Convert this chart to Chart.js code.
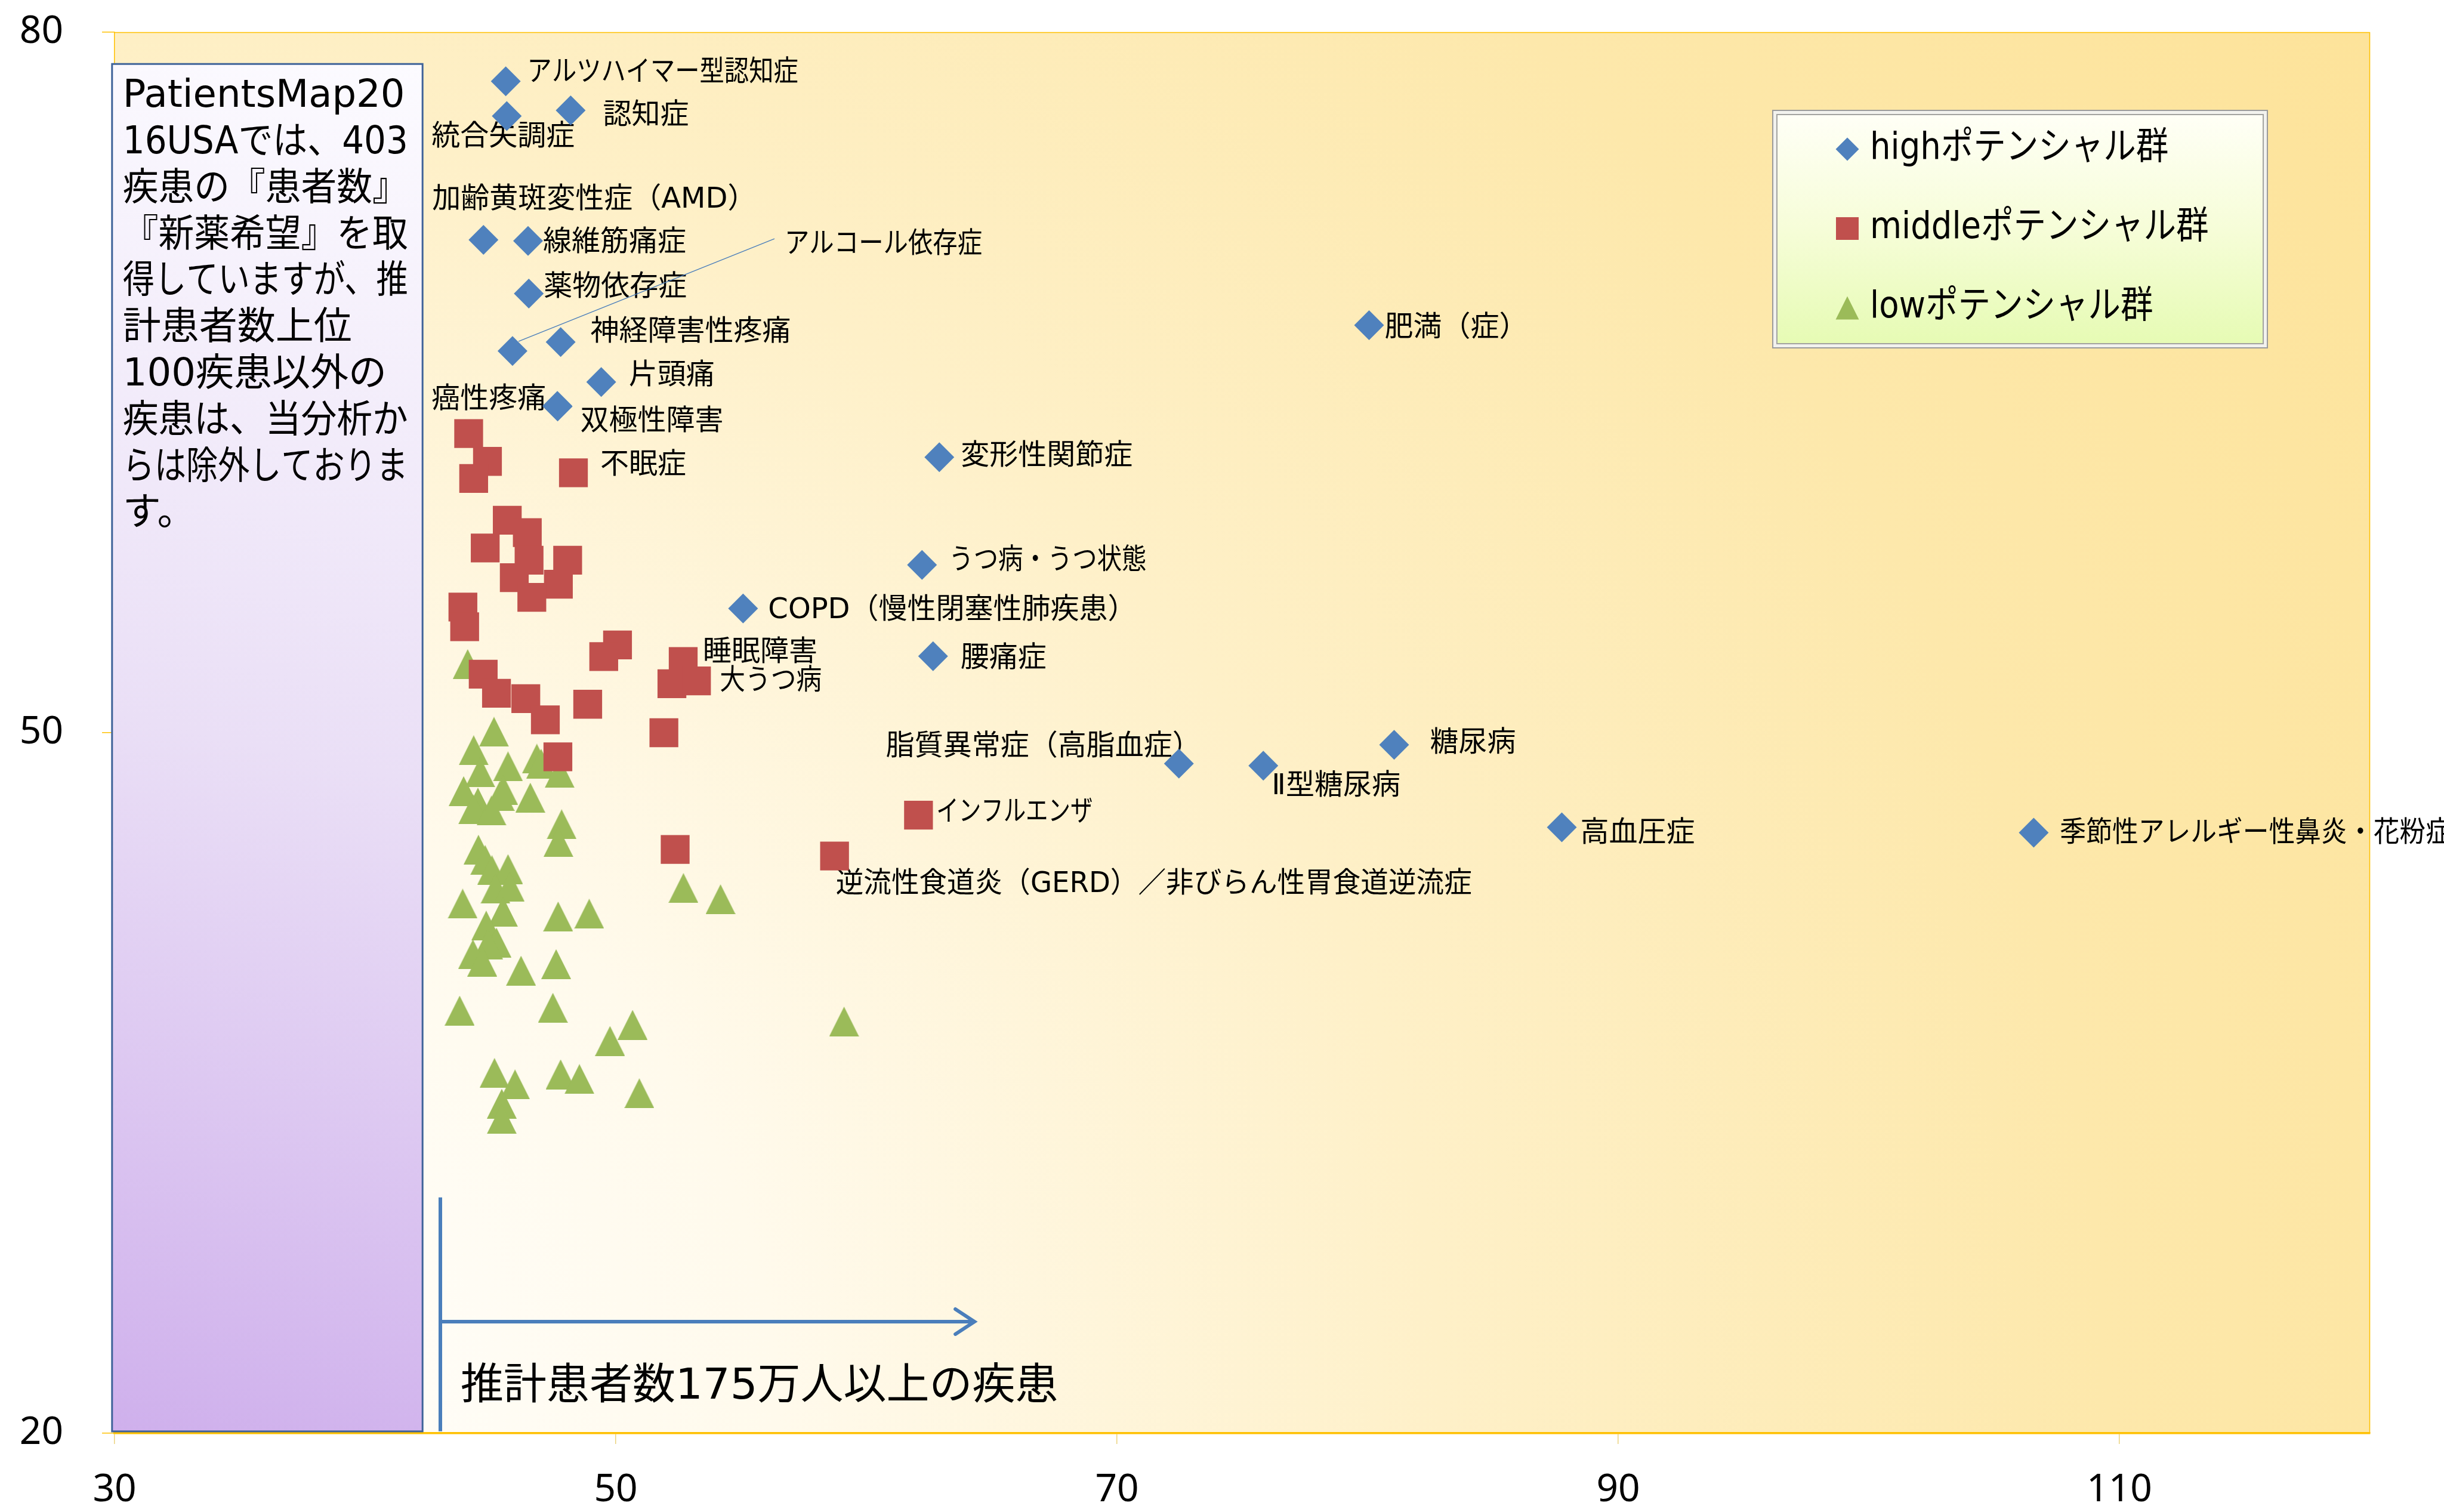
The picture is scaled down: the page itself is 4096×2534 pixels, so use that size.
<!DOCTYPE html>
<html>
<head>
<meta charset="utf-8">
<script src="https://cdn.jsdelivr.net/npm/chart.js@4.4.1/dist/chart.umd.min.js"></script>
<style>
  html, body { margin: 0; padding: 0; background: #ffffff; overflow: hidden; }
  #plot { display: block; width: 4096px; height: 2534px; }
</style>
</head>
<body>
<canvas id="plot" width="4096" height="2534"></canvas>
<script>
// ---- axis ticks ----
const xTickValues = [30, 50, 70, 90, 110];
const yTickValues = [20, 50, 80];

// ---- series names ----
const seriesNames = ['highポテンシャル群', 'middleポテンシャル群', 'lowポテンシャル群'];

// ---- high potential group ----
const highLabels = [
  'アルツハイマー型認知症', '認知症', '統合失調症', '加齢黄斑変性症（AMD）', '線維筋痛症',
  '薬物依存症', 'アルコール依存症', '神経障害性疼痛', '片頭痛', '癌性疼痛', '双極性障害',
  '変形性関節症', 'うつ病・うつ状態', 'COPD（慢性閉塞性肺疾患）', '腰痛症',
  '脂質異常症（高脂血症）', 'Ⅱ型糖尿病', '糖尿病', '肥満（症）', '高血圧症',
  '季節性アレルギー性鼻炎・花粉症'
];
const highX = [45.61, 48.20, 45.65, 44.72, 46.50, 46.53, 45.88, 47.80, 49.42, 47.67, 47.68,
               62.91, 62.22, 55.08, 62.66, 72.47, 75.84, 81.06, 80.06, 87.75, 106.58];
const highY = [77.90, 76.65, 76.41, 71.11, 71.06, 68.81, 66.35, 66.73, 65.02, 64.00, 63.97,
               61.80, 57.19, 55.32, 53.28, 48.68, 48.59, 49.48, 67.45, 45.95, 45.72];

// ---- middle potential group ----
const middleLabels = [
  '', '', '', '不眠症', '', '', '', '', '', '', '', '', '', '', '', '',
  '睡眠障害', '', '大うつ病', '', '', '', '', '', '', '', '', 'インフルエンザ',
  '逆流性食道炎（GERD）／非びらん性胃食道逆流症'
];
const middleX = [44.13, 44.88, 44.33, 48.31, 45.67, 46.47, 44.79, 46.54, 48.08, 45.95, 47.71,
                 46.65, 43.90, 43.97, 50.07, 49.52, 52.69, 52.24, 53.22, 44.71, 45.24, 46.41,
                 47.19, 48.88, 51.92, 47.69, 52.37, 62.08, 58.73];
const middleY = [62.81, 61.62, 60.89, 61.13, 59.10, 58.57, 57.91, 57.39, 57.39, 56.64, 56.36,
                 55.80, 55.38, 54.54, 53.76, 53.26, 53.05, 52.10, 52.22, 52.51, 51.69, 51.46,
                 50.55, 51.22, 50.00, 48.97, 45.00, 46.47, 44.72];

// ---- low potential group ----
const lowX = [44.09, 45.14, 44.33, 46.85, 47.02, 47.76, 44.59, 45.70, 43.93, 44.50, 44.31,
              45.04, 45.37, 45.51, 46.59, 47.84, 47.71, 44.52, 44.79, 45.06, 45.70, 45.20,
              45.77, 43.89, 45.50, 47.70, 48.94, 44.83, 45.24, 44.90, 44.30, 44.67, 46.22,
              47.62, 52.70, 54.18, 43.77, 47.49, 50.67, 49.77, 59.11, 45.16, 45.98, 47.80,
              48.55, 50.94, 45.45, 45.45];
const lowY = [52.94, 50.04, 49.25, 48.89, 48.67, 48.28, 48.31, 48.56, 47.50, 47.01, 46.72,
              46.67, 47.29, 47.54, 47.22, 46.08, 45.32, 44.99, 44.55, 44.11, 44.16, 43.32,
              43.40, 42.68, 42.33, 42.13, 42.25, 41.74, 41.01, 40.94, 40.51, 40.20, 39.81,
              40.09, 43.35, 42.87, 38.10, 38.22, 37.49, 36.80, 37.63, 35.43, 34.94, 35.37,
              35.17, 34.56, 34.11, 33.46];

// ---- annotation texts ----
const noteLines = [
  'PatientsMap20', '16USAでは、403', '疾患の『患者数』', '『新薬希望』を取',
  '得していますが、推', '計患者数上位', '100疾患以外の', '疾患は、当分析か',
  'らは除外しておりま', 'す。'
];
const thresholdText = '推計患者数175万人以上の疾患';
const thresholdX = 43.0;

// ---- styling ----
const TEXT_FONT = '"DejaVu Sans", "Noto Sans CJK JP", sans-serif';
const LABEL_SIZE = 48;
const COLORS = { high: '#4F81BD', middle: '#C0504D', low: '#9BBB59', gold: '#FFC000', arrow: '#4A7EBB' };

// label placement: [dx, dy, align] in pixels from the marker centre
const labelOffsets = {
  'アルツハイマー型認知症': [36, -14],
  '認知症': [54, 9],
  '統合失調症': [-126, 36],
  '加齢黄斑変性症（AMD）': [-86, -66],
  '線維筋痛症': [25, 4],
  '薬物依存症': [25, -9],
  'アルコール依存症': [456, -178],
  '神経障害性疼痛': [50, -16],
  '片頭痛': [46, -10],
  '癌性疼痛': [-19, -10, 'right'],
  '双極性障害': [38, 26],
  '変形性関節症': [36, -1],
  'うつ病・うつ状態': [45, -6],
  'COPD（慢性閉塞性肺疾患）': [42, 4],
  '腰痛症': [46, 5],
  '脂質異常症（高脂血症）': [37, -27, 'right'],
  'Ⅱ型糖尿病': [14, 35],
  '糖尿病': [60, -2],
  '肥満（症）': [26, 5],
  '高血圧症': [31, 11],
  '季節性アレルギー性鼻炎・花粉症': [44, 2],
  '不眠症': [45, -12],
  '睡眠障害': [33, -14],
  '大うつ病': [39, 1],
  'インフルエンザ': [30, -4],
  '逆流性食道炎（GERD）／非びらん性胃食道逆流症': [2, 48]
};

function toPoints(xs, ys) { return xs.map((x, i) => ({ x: x, y: ys[i] })); }

// kana are set a little tighter than ideographs
function labelWidth(ctx, text) {
  const kana = (text.match(/[\u3040-\u30FF]/g) || []).length;
  return ctx.measureText(text).width - kana * LABEL_SIZE * 0.22;
}

function triangleMarker(w, h, color) {
  const c = document.createElement('canvas');
  c.width = w; c.height = h;
  const g = c.getContext('2d');
  g.fillStyle = color;
  g.beginPath();
  g.moveTo(w / 2, 0); g.lineTo(w, h); g.lineTo(0, h); g.closePath();
  g.fill();
  return c;
}

// plot-area backdrop and frame
const backdrop = {
  id: 'backdrop',
  beforeDraw(chart) {
    const { ctx, chartArea: a } = chart;
    ctx.save();
    const r = Math.hypot(a.width, a.height);
    const g = ctx.createRadialGradient(a.left, a.bottom, 0, a.left, a.bottom, r);
    g.addColorStop(0, '#FFFFFF');
    g.addColorStop(0.25, '#FFFAEC');
    g.addColorStop(0.5, '#FEF0C8');
    g.addColorStop(0.75, '#FDE8AB');
    g.addColorStop(1, '#FDE39A');
    ctx.fillStyle = g;
    ctx.fillRect(a.left, a.top, a.width, a.height);
    ctx.strokeStyle = COLORS.gold;
    ctx.lineWidth = 1.5;
    ctx.beginPath();
    ctx.moveTo(a.left, a.top + 0.5);
    ctx.lineTo(a.right - 0.5, a.top + 0.5);
    ctx.lineTo(a.right - 0.5, a.bottom);
    ctx.stroke();
    ctx.restore();
  }
};

// note box and point labels under the markers
const underlay = {
  id: 'underlay',
  beforeDatasetsDraw(chart) {
    const { ctx, scales: { x, y } } = chart;
    ctx.save();
    // note box
    const L = x.getPixelForValue(29.9), R = x.getPixelForValue(42.29);
    const T = y.getPixelForValue(78.64), B = y.getPixelForValue(20.08);
    const g = ctx.createLinearGradient(R, T, L, B);
    g.addColorStop(0, '#FCFBFF');
    g.addColorStop(0.5, '#EADFF6');
    g.addColorStop(1, '#CFB0EC');
    ctx.fillStyle = g;
    ctx.fillRect(L, T, R - L, B - T);
    ctx.strokeStyle = '#3F6399';
    ctx.lineWidth = 3;
    ctx.strokeRect(L, T, R - L, B - T);
    ctx.fillStyle = '#000';
    ctx.font = '64px ' + TEXT_FONT;
    ctx.textAlign = 'left';
    ctx.textBaseline = 'alphabetic';
    noteLines.forEach((line, i) => {
      ctx.fillText(line, L + 18, T + 72 + i * 77.8, 478);
    });

    // point labels
    ctx.font = LABEL_SIZE + 'px ' + TEXT_FONT;
    ctx.textBaseline = 'middle';
    const labelSets = [highLabels, middleLabels, []];
    labelSets.forEach((labels, di) => {
      const meta = chart.getDatasetMeta(di);
      labels.forEach((name, j) => {
        if (!name) return;
        const el = meta.data[j];
        const off = labelOffsets[name] || [30, 0];
        ctx.textAlign = off[2] || 'left';
        ctx.fillText(name, el.x + off[0], el.y + off[1], labelWidth(ctx, name));
      });
    });
    ctx.restore();
  }
};

// leader line, threshold arrow and legend
const overlay = {
  id: 'overlay',
  afterDatasetsDraw(chart) {
    const { ctx, scales: { x, y } } = chart;
    ctx.save();
    // leader line to the alcohol dependence label
    const alc = chart.getDatasetMeta(0).data[highLabels.indexOf('アルコール依存症')];
    ctx.strokeStyle = COLORS.arrow;
    ctx.lineWidth = 1.5;
    ctx.beginPath();
    ctx.moveTo(alc.x + 10, alc.y - 16);
    ctx.lineTo(alc.x + 439, alc.y - 188);
    ctx.stroke();

    // threshold marker and arrow
    const tx = x.getPixelForValue(thresholdX);
    const ay = y.getPixelForValue(24.78);
    const tipX = x.getPixelForValue(64.36);
    ctx.lineWidth = 6;
    ctx.lineCap = 'butt';
    ctx.beginPath();
    ctx.moveTo(tx, y.getPixelForValue(30.1));
    ctx.lineTo(tx, y.getPixelForValue(20.08));
    ctx.moveTo(tx, ay);
    ctx.lineTo(tipX - 3, ay);
    ctx.stroke();
    ctx.lineJoin = 'miter';
    ctx.lineCap = 'round';
    ctx.beginPath();
    ctx.moveTo(tipX - 34, ay - 21);
    ctx.lineTo(tipX - 2, ay);
    ctx.lineTo(tipX - 34, ay + 21);
    ctx.stroke();

    ctx.fillStyle = '#000';
    ctx.font = '72px ' + TEXT_FONT;
    ctx.textAlign = 'left';
    ctx.textBaseline = 'middle';
    ctx.fillText(thresholdText, x.getPixelForValue(43.81), y.getPixelForValue(21.97));

    // legend panel
    const LL = 2970, LR = 3801, LT = 184, LB = 584;
    ctx.fillStyle = '#F2F2EE';
    ctx.fillRect(LL, LT, LR - LL, LB - LT);
    ctx.lineWidth = 2;
    ctx.strokeStyle = '#9B9B9B';
    ctx.strokeRect(LL + 1, LT + 1, LR - LL - 2, LB - LT - 2);
    const inset = 8;
    const pg = ctx.createLinearGradient(0, LT + inset, 0, LB - inset);
    pg.addColorStop(0, '#FFFFF6');
    pg.addColorStop(0.5, '#F6FDD8');
    pg.addColorStop(1, '#E6FBB4');
    ctx.fillStyle = pg;
    ctx.fillRect(LL + inset, LT + inset, LR - LL - 2 * inset, LB - LT - 2 * inset);
    ctx.strokeStyle = '#A3A3A0';
    ctx.strokeRect(LL + inset, LT + inset, LR - LL - 2 * inset, LB - LT - 2 * inset);

    const rows = [250, 383, 516];
    const mx = 3096;
    // diamond
    ctx.fillStyle = COLORS.high;
    ctx.beginPath();
    ctx.moveTo(mx, rows[0] - 19.5); ctx.lineTo(mx + 19.5, rows[0]);
    ctx.lineTo(mx, rows[0] + 19.5); ctx.lineTo(mx - 19.5, rows[0]); ctx.closePath(); ctx.fill();
    // square
    ctx.fillStyle = COLORS.middle;
    ctx.fillRect(mx - 19, rows[1] - 19, 38, 38);
    // triangle
    ctx.fillStyle = COLORS.low;
    ctx.beginPath();
    ctx.moveTo(mx, rows[2] - 19.5); ctx.lineTo(mx + 19.5, rows[2] + 19.5);
    ctx.lineTo(mx - 19.5, rows[2] + 19.5); ctx.closePath(); ctx.fill();

    ctx.fillStyle = '#000';
    ctx.font = '63px ' + TEXT_FONT;
    ctx.textAlign = 'left';
    ctx.textBaseline = 'middle';
    seriesNames.forEach((name, i) => {
      ctx.save();
      ctx.translate(3134, rows[i]);
      ctx.scale(0.865, 1);
      ctx.fillText(name, 0, 0);
      ctx.restore();
    });
    ctx.restore();
  }
};

const tickFont = { family: '"Noto Sans", sans-serif', size: 64 };

new Chart(document.getElementById('plot'), {
  type: 'scatter',
  data: {
    datasets: [
      { label: seriesNames[0], data: toPoints(highX, highY), pointStyle: 'rectRot',
        pointRadius: 25, backgroundColor: COLORS.high, borderWidth: 0 },
      { label: seriesNames[1], data: toPoints(middleX, middleY), pointStyle: 'rect',
        pointRadius: 34.15, backgroundColor: COLORS.middle, borderWidth: 0 },
      { label: seriesNames[2], data: toPoints(lowX, lowY), pointStyle: triangleMarker(50, 50, COLORS.low),
        pointRadius: 25, backgroundColor: COLORS.low, borderWidth: 0 }
    ]
  },
  options: {
    responsive: false,
    animation: false,
    devicePixelRatio: 1,
    layout: { padding: { left: 0, right: 124, top: 54, bottom: 0 } },
    plugins: { legend: { display: false }, tooltip: { enabled: false } },
    scales: {
      x: {
        type: 'linear', min: 30, max: 120,
        afterBuildTicks: (s) => { s.ticks = xTickValues.map(v => ({ value: v })); },
        afterFit: (s) => { s.height = 132; s.paddingLeft = 0; s.paddingRight = 0; },
        grid: { drawOnChartArea: false, drawTicks: true, tickLength: 18, color: '#EBD37E', lineWidth: 1.5 },
        border: { display: true, color: COLORS.gold, width: 3.5 },
        ticks: { font: tickFont, color: '#000', padding: 39, maxRotation: 0, autoSkip: false }
      },
      y: {
        type: 'linear', min: 20, max: 80,
        afterBuildTicks: (s) => { s.ticks = yTickValues.map(v => ({ value: v })); },
        afterFit: (s) => { s.width = 192; s.paddingTop = 0; s.paddingBottom = 0; },
        grid: { drawOnChartArea: false, drawTicks: true, tickLength: 21, color: COLORS.gold, lineWidth: 1.5 },
        border: { display: true, color: COLORS.gold, width: 1.5 },
        ticks: { font: tickFont, color: '#000', padding: 65, autoSkip: false }
      }
    }
  },
  plugins: [backdrop, underlay, overlay]
});
</script>
</body>
</html>
